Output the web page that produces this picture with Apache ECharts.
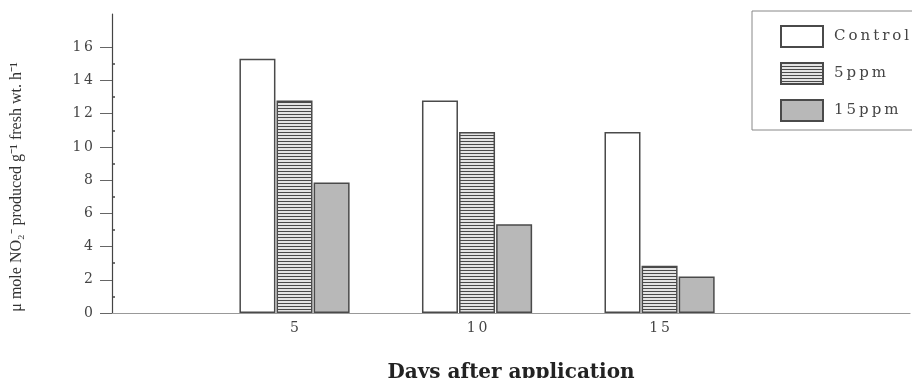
<!DOCTYPE html>
<html>
<head>
<meta charset="utf-8">
<script src="https://cdn.jsdelivr.net/npm/echarts@6/dist/echarts.min.js"></script>
<style>html,body{margin:0;padding:0;background:#fff}#c{width:912px;height:378px}</style>
</head>
<body>
<div id="c"></div>
<script>
const days = [5, 10, 15];
const seriesNames = ['Control', '5ppm', '15ppm'];
const control = [15.3, 12.8, 10.9];
const ppm5 = [12.8, 10.9, 2.85];
const ppm15 = [7.85, 5.35, 2.2];
const yTickLabels = [0, 2, 4, 6, 8, 10, 12, 14, 16];
const yMinorTicks = [1, 3, 5, 7, 9, 11, 13, 15];
const xTickLabels = [5, 10, 15];

const serif = "'Liberation Serif', 'Times New Roman', serif";
const wide = "'DejaVu Serif', serif";
const spaced = s => String(s).split('').join('\u2009');

function stripePattern() {
  const c = document.createElement('canvas');
  c.width = 4; c.height = 3;
  const g = c.getContext('2d');
  g.fillStyle = '#e4e4e4'; g.fillRect(0, 0, 4, 3);
  g.fillStyle = '#4a4a4a'; g.fillRect(0, 0, 4, 1);
  return { image: c, repeat: 'repeat' };
}

const pairs = vals => days.map((d, i) => [d, vals[i]]);

const chart = echarts.init(document.getElementById('c'), null, { renderer: 'canvas' });
const border = { borderColor: '#4a4a4a', borderWidth: 1.5 };
chart.setOption({
  animation: false,
  backgroundColor: '#fff',
  grid: { left: 112, right: 2, top: 14, bottom: 65, containLabel: false, outerBoundsMode: 'none' },
  legend: {
    orient: 'vertical', left: 752, top: 11,
    padding: [14, 50, 8, 28],
    icon: 'rect',
    itemWidth: 42, itemHeight: 21, itemGap: 14,
    borderColor: '#888', borderWidth: 1,
    formatter: name => spaced(name),
    textStyle: { fontFamily: wide, fontSize: 15, color: '#444', padding: [0, 0, 0, 6] },
    data: seriesNames
  },
  xAxis: {
    type: 'value', min: 0, max: 21.86,
    axisLine: { show: true, onZero: false, lineStyle: { color: '#999', width: 1.2 } },
    axisTick: { show: false },
    splitLine: { show: false },
    axisLabel: { customValues: xTickLabels, formatter: v => spaced(v), fontFamily: wide, fontSize: 14, color: '#444', margin: 8 },
    name: 'Days after application', nameLocation: 'middle', nameGap: 50,
    nameTextStyle: { fontFamily: wide, fontSize: 20, fontWeight: 'bold', color: '#222' }
  },
  yAxis: [{
    type: 'value', min: 0, max: 18, interval: 2,
    axisLine: { show: true, onZero: false, lineStyle: { color: '#444', width: 1.2 } },
    axisTick: { show: true, customValues: yTickLabels, length: 12, lineStyle: { color: '#666' } },
    axisLabel: { customValues: yTickLabels, formatter: v => spaced(v), fontFamily: wide, fontSize: 14, color: '#444', margin: 19 },
    splitLine: { show: false }
  }, {
    type: 'value', min: 0, max: 18, position: 'left', offset: 0,
    axisLine: { show: false },
    axisTick: { show: true, inside: true, customValues: yMinorTicks, length: 3, lineStyle: { color: '#444', width: 1.5 } },
    axisLabel: { show: false },
    splitLine: { show: false }
  }],
  graphic: [{
    type: 'text', x: 17, y: 187, rotation: Math.PI / 2,
    style: {
      text: 'μ mole NO₂⁻ produced g⁻¹ fresh wt. h⁻¹',
      fontFamily: serif, fontSize: 16, fill: '#333',
      align: 'center', verticalAlign: 'middle'
    }
  }],
  series: [
    { name: seriesNames[0], type: 'bar', barWidth: 36, barGap: '3%', data: pairs(control),
      itemStyle: Object.assign({ color: '#ffffff' }, border) },
    { name: seriesNames[1], type: 'bar', barWidth: 36, barGap: '3%', data: pairs(ppm5),
      itemStyle: Object.assign({ color: stripePattern() }, border) },
    { name: seriesNames[2], type: 'bar', barWidth: 36, barGap: '3%', data: pairs(ppm15),
      itemStyle: Object.assign({ color: '#b8b8b8' }, border) }
  ]
});
</script>
</body>
</html>
